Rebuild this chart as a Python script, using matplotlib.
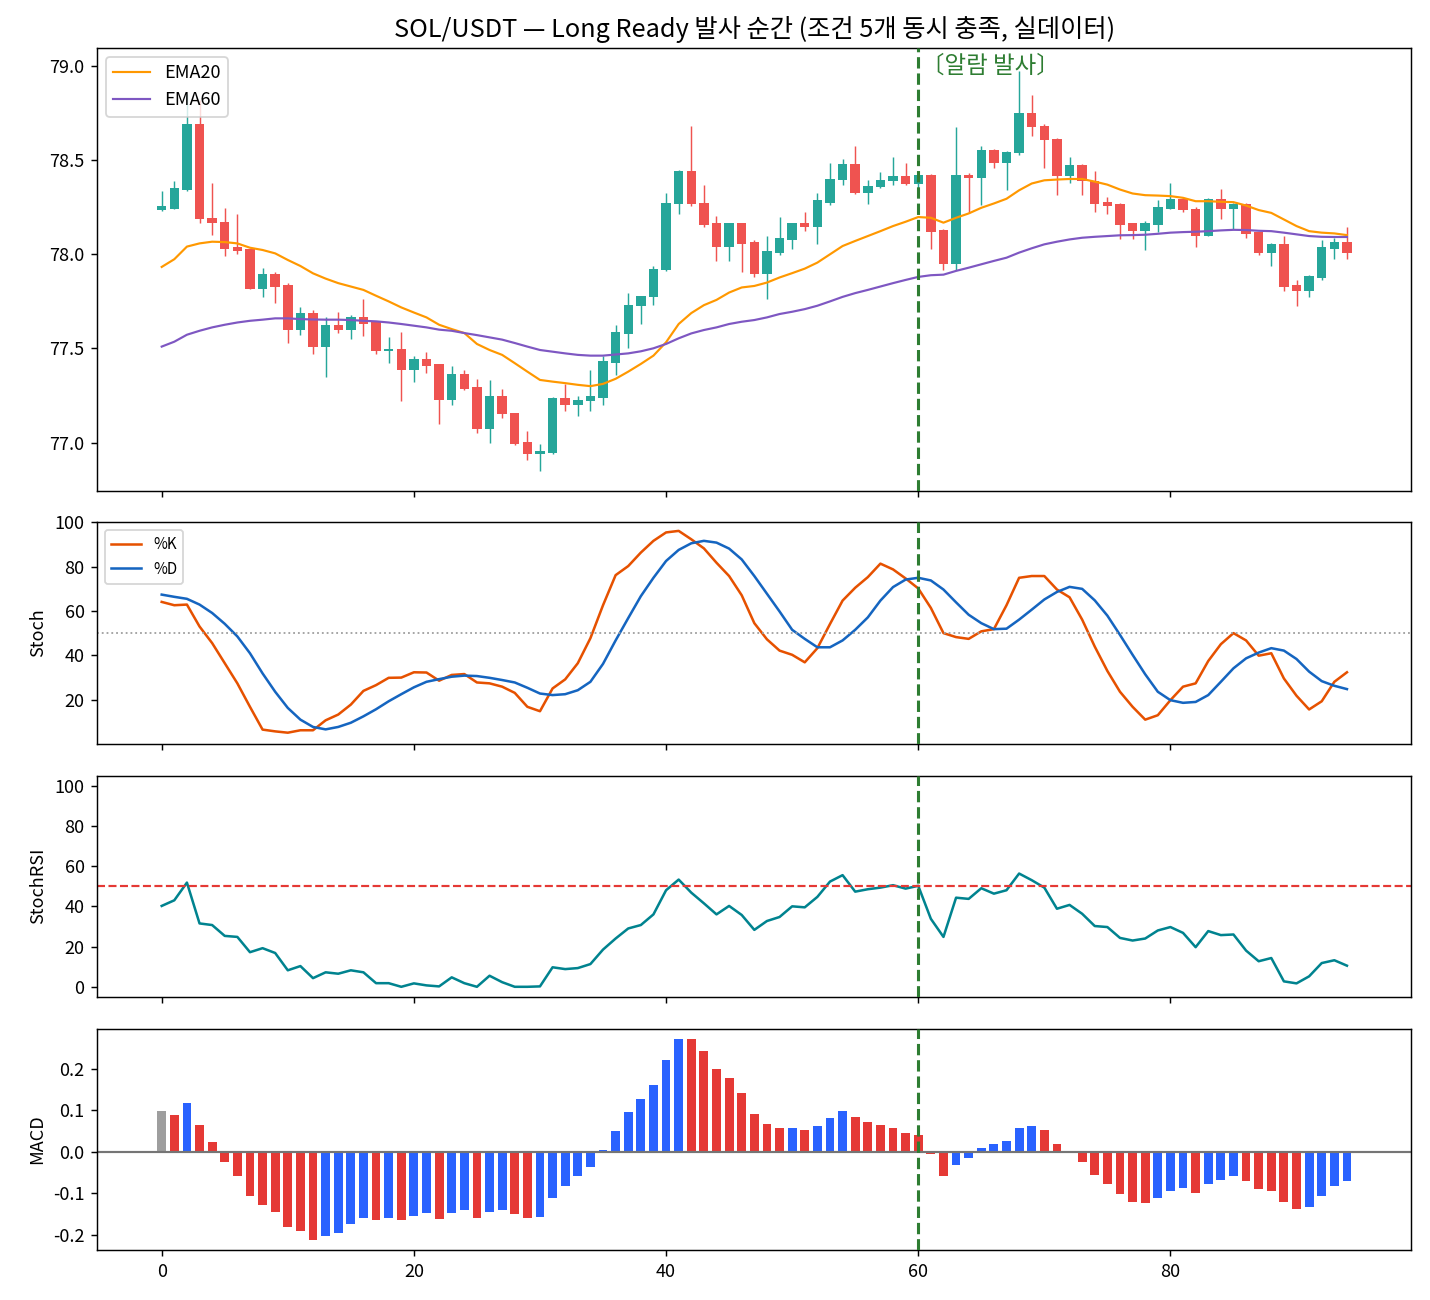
import numpy as np
import matplotlib
matplotlib.use("Agg")
import matplotlib.pyplot as plt

plt.rcParams['font.family'] = ['Noto Sans CJK KR', 'DejaVu Sans']
plt.rcParams['axes.unicode_minus'] = False

# ---- candle data ----
opens = [78.235, 78.243, 78.344, 78.693, 78.194, 78.173, 78.037, 78.026, 77.818, 77.894,
         77.836, 77.600, 77.686, 77.510, 77.624, 77.600, 77.668, 77.638, 77.489, 77.497,
         77.388, 77.444, 77.418, 77.229, 77.365, 77.294, 77.071, 77.247, 77.159, 77.004,
         76.938, 76.947, 77.236, 77.198, 77.220, 77.238, 77.423, 77.577, 77.727, 77.774,
         77.917, 78.265, 78.444, 78.273, 78.164, 78.039, 78.164, 78.065, 77.894, 78.005,
         78.076, 78.164, 78.145, 78.273, 78.393, 78.480, 78.323, 78.356, 78.388, 78.415,
         78.376, 78.423, 78.129, 77.947, 78.423, 78.406, 78.556, 78.485, 78.536, 78.753,
         78.683, 78.612, 78.415, 78.476, 78.390, 78.277, 78.265, 78.164, 78.123, 78.155,
         78.243, 78.296, 78.243, 78.097, 78.296, 78.243, 78.265, 78.118, 78.005, 78.053,
         77.836, 77.806, 77.873, 78.026, 78.065]
highs = [78.335, 78.388, 78.850, 78.820, 78.379, 78.247, 78.215, 78.030, 77.929, 77.907,
         77.849, 77.718, 77.705, 77.668, 77.695, 77.679, 77.762, 77.640, 77.559, 77.589,
         77.459, 77.480, 77.420, 77.409, 77.388, 77.339, 77.330, 77.286, 77.160, 77.060,
         76.991, 77.240, 77.312, 77.250, 77.388, 77.459, 77.626, 77.797, 77.780, 77.938,
         78.326, 78.450, 78.684, 78.370, 78.203, 78.164, 78.164, 78.076, 78.097, 78.199,
         78.164, 78.226, 78.326, 78.485, 78.508, 78.577, 78.392, 78.437, 78.517, 78.485,
         78.430, 78.425, 78.136, 78.676, 78.430, 78.577, 78.560, 78.550, 78.975, 78.847,
         78.690, 78.615, 78.517, 78.480, 78.440, 78.305, 78.270, 78.165, 78.176, 78.287,
         78.379, 78.300, 78.250, 78.300, 78.347, 78.273, 78.270, 78.120, 78.060, 78.097,
         77.862, 77.890, 78.076, 78.088, 78.147]
lows = [78.230, 78.240, 78.335, 78.168, 78.100, 77.991, 78.000, 77.815, 77.771, 77.741,
        77.529, 77.571, 77.471, 77.347, 77.582, 77.550, 77.568, 77.471, 77.423, 77.220,
        77.321, 77.370, 77.100, 77.198, 77.277, 77.053, 77.000, 77.132, 76.990, 76.910,
        76.850, 76.940, 77.167, 77.139, 77.167, 77.198, 77.360, 77.501, 77.630, 77.730,
        77.910, 78.212, 78.256, 78.146, 77.965, 77.965, 77.907, 77.877, 77.762, 77.995,
        78.030, 78.123, 78.056, 78.260, 78.370, 78.320, 78.268, 78.350, 78.370, 78.370,
        78.335, 78.030, 77.917, 77.917, 78.217, 78.260, 78.459, 78.339, 78.530, 78.626,
        78.459, 78.314, 78.379, 78.314, 78.226, 78.212, 78.079, 78.079, 78.021, 78.120,
        78.240, 78.226, 78.041, 78.097, 78.189, 78.136, 78.088, 77.995, 77.938, 77.806,
        77.727, 77.771, 77.862, 77.977, 77.977]
closes = [78.256, 78.353, 78.693, 78.185, 78.168, 78.030, 78.018, 77.818, 77.894, 77.829,
          77.600, 77.686, 77.510, 77.624, 77.600, 77.668, 77.628, 77.489, 77.497, 77.388,
          77.444, 77.409, 77.229, 77.365, 77.286, 77.071, 77.247, 77.150, 76.995, 76.938,
          76.956, 77.236, 77.198, 77.224, 77.247, 77.432, 77.586, 77.732, 77.780, 77.924,
          78.273, 78.444, 78.265, 78.155, 78.039, 78.164, 78.053, 77.894, 78.018, 78.085,
          78.164, 78.145, 78.286, 78.402, 78.480, 78.323, 78.365, 78.397, 78.415, 78.376,
          78.423, 78.118, 77.947, 78.423, 78.406, 78.556, 78.485, 78.543, 78.753, 78.674,
          78.605, 78.415, 78.476, 78.388, 78.265, 78.256, 78.155, 78.123, 78.164, 78.252,
          78.296, 78.235, 78.097, 78.296, 78.243, 78.268, 78.109, 78.005, 78.053, 77.827,
          77.806, 77.885, 78.037, 78.065, 78.005]

ema20 = [77.933, 77.974, 78.041, 78.058, 78.067, 78.065, 78.058, 78.035, 78.023, 78.005,
         77.970, 77.938, 77.899, 77.871, 77.847, 77.829, 77.811, 77.780, 77.750, 77.718,
         77.691, 77.665, 77.626, 77.603, 77.582, 77.524, 77.492, 77.466, 77.422, 77.377,
         77.333, 77.324, 77.316, 77.307, 77.300, 77.312, 77.339, 77.377, 77.418, 77.462,
         77.533, 77.630, 77.688, 77.730, 77.758, 77.797, 77.824, 77.832, 77.850, 77.877,
         77.900, 77.924, 77.956, 78.000, 78.044, 78.071, 78.097, 78.123, 78.150, 78.173,
         78.198, 78.194, 78.168, 78.194, 78.217, 78.247, 78.270, 78.295, 78.340, 78.376,
         78.393, 78.397, 78.400, 78.400, 78.386, 78.370, 78.344, 78.323, 78.314, 78.312,
         78.309, 78.300, 78.282, 78.282, 78.279, 78.277, 78.259, 78.235, 78.220, 78.185,
         78.150, 78.123, 78.115, 78.111, 78.102]
ema60 = [77.510, 77.536, 77.573, 77.594, 77.612, 77.626, 77.638, 77.647, 77.653, 77.660,
         77.660, 77.656, 77.654, 77.653, 77.653, 77.651, 77.647, 77.644, 77.638, 77.630,
         77.621, 77.612, 77.600, 77.594, 77.582, 77.571, 77.559, 77.547, 77.529, 77.510,
         77.492, 77.483, 77.474, 77.466, 77.462, 77.462, 77.468, 77.474, 77.485, 77.501,
         77.524, 77.554, 77.580, 77.598, 77.612, 77.630, 77.642, 77.651, 77.665, 77.683,
         77.695, 77.709, 77.727, 77.750, 77.774, 77.794, 77.811, 77.829, 77.847, 77.864,
         77.880, 77.889, 77.892, 77.912, 77.929, 77.947, 77.965, 77.982, 78.009, 78.032,
         78.053, 78.067, 78.079, 78.088, 78.093, 78.097, 78.101, 78.102, 78.104, 78.109,
         78.115, 78.118, 78.120, 78.123, 78.127, 78.130, 78.129, 78.125, 78.123, 78.115,
         78.106, 78.097, 78.093, 78.092, 78.092]

stoch_k = [64.1, 62.6, 62.9, 53.0, 45.5, 36.4, 27.3, 16.7, 6.4, 5.6,
           5.0, 6.1, 6.1, 10.6, 13.2, 17.7, 23.9, 26.5, 29.8, 29.9,
           32.3, 32.2, 28.5, 31.1, 31.5, 27.7, 27.3, 25.8, 23.0, 16.7,
           14.7, 25.0, 29.1, 36.4, 47.7, 62.6, 76.2, 80.3, 86.4, 91.7,
           95.5, 96.2, 92.4, 88.3, 81.8, 75.8, 67.1, 54.5, 47.2, 42.1,
           40.2, 36.8, 43.2, 54.1, 64.7, 70.5, 75.3, 81.4, 78.8, 74.7,
           70.2, 61.4, 50.0, 48.2, 47.4, 50.8, 51.8, 62.6, 75.0, 75.8,
           75.8, 69.7, 66.2, 56.1, 43.9, 32.9, 23.5, 16.7, 10.9, 12.9,
           19.7, 25.8, 27.3, 37.4, 45.0, 50.0, 46.7, 39.8, 40.9, 29.5,
           21.7, 15.5, 19.2, 28.0, 32.3]
stoch_d = [67.4, 66.4, 65.5, 62.9, 59.1, 54.2, 48.5, 40.9, 31.8, 23.5,
           16.2, 10.9, 7.6, 6.5, 7.6, 9.5, 12.4, 15.6, 19.2, 22.4,
           25.5, 28.0, 29.2, 30.3, 30.8, 30.6, 29.8, 28.8, 27.7, 25.3,
           22.7, 22.0, 22.4, 24.2, 28.0, 36.1, 46.7, 56.8, 66.7, 75.0,
           82.6, 87.6, 90.6, 91.7, 90.9, 88.2, 83.3, 75.8, 67.8, 59.8,
           51.5, 47.4, 43.6, 43.6, 46.7, 51.5, 57.1, 64.7, 70.8, 74.2,
           75.0, 73.8, 69.7, 63.9, 58.3, 54.5, 51.8, 52.0, 56.1, 60.6,
           65.2, 68.6, 70.9, 70.0, 64.8, 57.9, 49.2, 40.2, 31.4, 23.5,
           19.7, 18.5, 18.9, 22.0, 28.0, 34.1, 38.6, 41.2, 43.2, 42.1,
           38.3, 32.6, 28.3, 26.2, 24.7]

stoch_rsi = [40.2, 43.0, 51.8, 31.5, 30.7, 25.3, 24.8, 17.2, 19.2, 16.8,
             8.2, 10.3, 4.3, 7.2, 6.5, 8.2, 7.2, 1.8, 1.8, 0.0,
             1.7, 0.7, 0.2, 4.7, 1.8, 0.0, 5.5, 2.3, 0.0, 0.0,
             0.2, 9.7, 8.8, 9.3, 11.3, 18.5, 24.0, 29.0, 30.7, 36.0,
             48.0, 53.3, 46.8, 41.5, 36.0, 40.2, 35.7, 28.3, 32.7, 34.7,
             40.0, 39.5, 44.7, 52.3, 55.5, 47.3, 48.5, 49.3, 50.5, 48.8,
             50.2, 33.8, 24.8, 44.3, 43.7, 49.0, 46.3, 48.0, 56.3, 53.0,
             49.3, 38.8, 40.7, 36.3, 30.2, 29.7, 24.3, 23.0, 24.0, 28.0,
             29.7, 26.8, 19.7, 27.7, 25.7, 26.0, 18.0, 12.7, 14.3, 2.7,
             1.7, 5.2, 11.8, 13.2, 10.5]

macd_hist = [0.099, 0.089, 0.118, 0.065, 0.024, -0.024, -0.058, -0.106, -0.127, -0.145,
             -0.181, -0.190, -0.212, -0.202, -0.195, -0.173, -0.159, -0.164, -0.159, -0.164,
             -0.154, -0.147, -0.161, -0.147, -0.140, -0.159, -0.145, -0.140, -0.149, -0.159,
             -0.157, -0.111, -0.082, -0.058, -0.036, 0.005, 0.051, 0.096, 0.128, 0.161,
             0.222, 0.272, 0.271, 0.243, 0.200, 0.178, 0.142, 0.092, 0.067, 0.057,
             0.058, 0.053, 0.063, 0.082, 0.099, 0.084, 0.072, 0.065, 0.058, 0.046,
             0.041, -0.006, -0.059, -0.031, -0.016, 0.010, 0.019, 0.027, 0.058, 0.063,
             0.053, 0.019, -0.001, -0.024, -0.055, -0.077, -0.101, -0.120, -0.123, -0.111,
             -0.094, -0.087, -0.099, -0.077, -0.067, -0.058, -0.070, -0.089, -0.094, -0.120,
             -0.137, -0.133, -0.106, -0.082, -0.070]

signal_idx = 60

UP, DOWN = '#26a69a', '#ef5350'

x = np.arange(len(closes))
o = np.array(opens); c = np.array(closes)
h = np.array(highs); l = np.array(lows)
cols = [UP if cc >= oo else DOWN for oo, cc in zip(o, c)]

fig, axes = plt.subplots(4, 1, figsize=(11, 10), dpi=130, sharex=True,
                         gridspec_kw={'height_ratios': [2, 1, 1, 1]})
fig.subplots_adjust(left=0.068, right=0.987, top=0.963, bottom=0.0385, hspace=0.115)
ax1, ax2, ax3, ax4 = axes

# price panel
ax1.vlines(x, l, h, colors=cols, linewidth=0.8, zorder=2)
body = np.maximum(np.abs(c - o), 0.004)
ax1.bar(x, body, bottom=np.minimum(o, c), width=0.75, color=cols, zorder=3)
ax1.plot(x, ema20, color='#ff9800', lw=1.2, label='EMA20', zorder=4)
ax1.plot(x, ema60, color='#7e57c2', lw=1.2, label='EMA60', zorder=4)
ax1.set_ylim(76.745, 79.095)
ax1.legend(loc='upper left')
ax1.set_title('SOL/USDT — Long Ready 발사 순간 (조건 5개 동시 충족, 실데이터)', fontsize=14)
ax1.text(signal_idx + 0.2, 79.0, '〔알람 발사〕', color='#2e7d32', fontsize=13,
         ha='left', va='center')

# stochastic
ax2.plot(x, stoch_k, color='#e65100', lw=1.4, label='%K')
ax2.plot(x, stoch_d, color='#1565c0', lw=1.4, label='%D')
ax2.axhline(50, color='#9e9e9e', ls=':', lw=1)
ax2.set_ylim(0, 100)
ax2.set_yticks([20, 40, 60, 80, 100])
ax2.set_ylabel('Stoch')
ax2.legend(loc='upper left', fontsize='small')

# stoch rsi
ax3.plot(x, stoch_rsi, color='#00838f', lw=1.4)
ax3.axhline(50, color='#e53935', ls='--', lw=1.2)
ax3.set_ylim(-5, 105)
ax3.set_yticks([0, 20, 40, 60, 80, 100])
ax3.set_ylabel('StochRSI')

# macd histogram
hist = np.array(macd_hist)
bar_cols = ['#9e9e9e'] + ['#2962ff' if hist[i] > hist[i - 1] else '#e53935'
                          for i in range(1, len(hist))]
ax4.bar(x, hist, width=0.7, color=bar_cols)
ax4.axhline(0, color='#757575', lw=1.2)
ax4.set_ylabel('MACD')
ax4.set_xticks([0, 20, 40, 60, 80])

for ax in axes:
    ax.axvline(signal_idx, color='#2e7d32', ls='--', lw=1.7, zorder=5)

fig.savefig('out.png', dpi=130)
